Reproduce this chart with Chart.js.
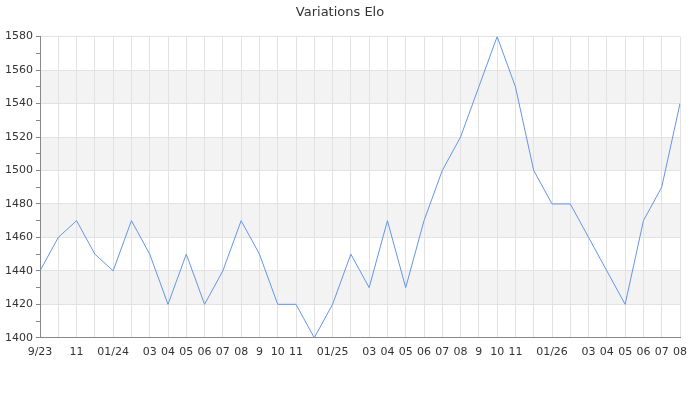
<!DOCTYPE html>
<html>
<head>
<meta charset="utf-8">
<script src="https://cdn.jsdelivr.net/npm/chart.js@4/dist/chart.umd.min.js"></script>
<style>
html,body{margin:0;padding:0;background:#fff;}
#wrap{width:700px;height:400px;position:relative;}
</style>
</head>
<body>
<div id="wrap"><canvas id="c" width="700" height="400"></canvas></div>
<script>
const monthLabels = ["9/23","","11","","01/24","","03","04","05","06","07","08","9","10","11","","01/25","","03","04","05","06","07","08","9","10","11","","01/26","","03","04","05","06","07","08"];
const eloValues = [1440,1460,1470,1450,1440,1470,1450,1420,1450,1420,1440,1470,1450,1420,1420,1400,1420,1450,1430,1470,1430,1470,1500,1520,1550,1580,1550,1500,1480,1480,1460,1440,1420,1470,1490,1540];
const yMin = 1400, yMax = 1580;
const bandRanges = [[1420,1440],[1460,1480],[1500,1520],[1540,1560]];

const bandPlugin = {
  id: 'bands',
  beforeDraw(chart) {
    const {ctx, chartArea, scales} = chart;
    ctx.save();
    ctx.fillStyle = '#f3f3f3';
    bandRanges.forEach(([a,b]) => {
      const y1 = scales.y.getPixelForValue(b);
      const y2 = scales.y.getPixelForValue(a);
      ctx.fillRect(chartArea.left, y1, chartArea.right - chartArea.left, y2 - y1);
    });
    ctx.restore();
  }
};

Chart.defaults.font.family = "'DejaVu Sans', sans-serif";
Chart.defaults.color = '#333';

new Chart(document.getElementById('c'), {
  type: 'line',
  data: {
    labels: monthLabels,
    datasets: [{
      data: eloValues,
      borderColor: '#6495ed',
      borderWidth: 1,
      pointRadius: 0,
      tension: 0,
      fill: false
    }]
  },
  options: {
    responsive: false,
    animation: false,
    layout: { padding: { left: 0, right: 20, top: 0, bottom: 33 } },
    plugins: {
      legend: { display: false },
      tooltip: { enabled: false },
      title: {
        display: true,
        text: 'Variations Elo',
        color: '#333',
        font: { size: 13, weight: 'normal' },
        padding: { top: 5, bottom: 16 }
      }
    },
    scales: {
      x: {
        offset: false,
        grid: { color: '#e2e2e2', drawTicks: false, lineWidth: 1 },
        border: { color: '#888', width: 1 },
        ticks: { autoSkip: false, maxRotation: 0, minRotation: 0, padding: 8, font: { size: 11 }, color: '#333' }
      },
      y: {
        min: yMin,
        max: yMax,
        afterFit(scale) { scale.width = 40; },
        grid: {
          color: (c) => (c.tick && c.tick.value % 20 === 0) ? '#e2e2e2' : 'rgba(0,0,0,0)',
          tickColor: '#888',
          tickLength: 4,
          lineWidth: 1
        },
        border: { color: '#888', width: 1 },
        ticks: {
          stepSize: 10,
          padding: 3,
          font: { size: 11 },
          color: '#333',
          callback: (v) => (v % 20 === 0 ? String(v) : '')
        }
      }
    }
  },
  plugins: [bandPlugin]
});
</script>
</body>
</html>
